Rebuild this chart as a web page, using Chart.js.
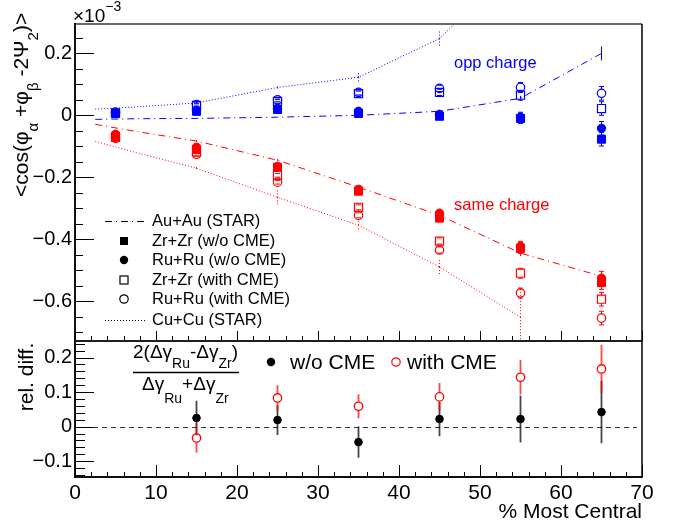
<!DOCTYPE html>
<html>
<head>
<meta charset="utf-8">
<script src="https://cdn.jsdelivr.net/npm/chart.js@4.4.0/dist/chart.umd.min.js"></script>
<style>
  html, body { margin: 0; padding: 0; background: #fff; }
  .wrap { position: relative; width: 678px; height: 529px; }
  .wrap canvas { position: absolute; left: 0; top: 0; }
</style>
</head>
<body>
<div class="wrap">
  <canvas id="topChart" width="678" height="529"></canvas>
  <canvas id="bottomChart" width="678" height="529"></canvas>
</div>
<script>
const FONT = '"Liberation Sans", Arial, Helvetica, sans-serif';
const BLUE = '#0000ff';
const RED = '#ff0000';

// centrality bins (% most central)
const isoCent = [5, 15, 25, 35, 45, 55, 65];
const auCent = [2.5, 7.5, 15, 25, 35, 45, 55, 65];
const cuCent = [2.5, 7.5, 15, 25, 35, 45, 55];

// <cos(phi_a + phi_b - 2 Psi_2)>, units of 1e-3, opposite charge
const zrOppNoCme = [0.006, 0.013, 0.019, 0.006, -0.003, -0.010, -0.077];
const ruOppNoCme = [0.010, 0.016, 0.022, 0.013, 0.003, -0.006, -0.042];
const zrOppCme = [0.008, 0.032, 0.045, 0.070, 0.074, 0.065, 0.022];
const ruOppCme = [0.010, 0.035, 0.050, 0.074, 0.087, 0.090, 0.071];
// same charge
const zrSameNoCme = [-0.068, -0.110, -0.168, -0.245, -0.332, -0.430, -0.540];
const ruSameNoCme = [-0.061, -0.103, -0.165, -0.239, -0.316, -0.423, -0.526];
const zrSameCme = [-0.071, -0.119, -0.194, -0.297, -0.406, -0.510, -0.594];
const ruSameCme = [-0.074, -0.126, -0.216, -0.323, -0.435, -0.574, -0.655];
const isoErr = [0.004, 0.005, 0.006, 0.008, 0.010, 0.016, 0.022];

// STAR data
const auOpp = [-0.013, -0.011, -0.010, -0.006, 0.000, 0.013, 0.055, 0.200];
const auOppErr = [0, 0, 0, 0, 0.003, 0.005, 0.008, 0.030];
const auSame = [-0.029, -0.052, -0.083, -0.145, -0.232, -0.323, -0.445, -0.520];
const auSameErr = [0, 0, 0.003, 0.004, 0.006, 0.008, 0.010, 0.015];
const cuOpp = [0.020, 0.027, 0.040, 0.090, 0.123, 0.248, 0.500];
const cuOppErr = [0, 0, 0.005, 0.006, 0.013, 0.028, 0.050];
const cuSame = [-0.084, -0.120, -0.171, -0.265, -0.355, -0.490, -0.652];
const cuSameErr = [0, 0, 0.006, 0.025, 0.020, 0.028, 0.090];

// relative difference 2(Ru-Zr)/(Ru+Zr)
const relCent = [15, 25, 35, 45, 55, 65];
const relNoCme = [0.025, 0.019, -0.045, 0.022, 0.022, 0.042];
const relNoCmeErr = [0.050, 0.043, 0.045, 0.050, 0.068, 0.090];
const relCme = [-0.033, 0.083, 0.059, 0.086, 0.143, 0.167];
const relCmeErr = [0.043, 0.037, 0.035, 0.040, 0.050, 0.070];

const pts = (xs, ys) => xs.map((x, i) => ({ x: x, y: ys[i] }));
const fmt = v => {
  const r = Math.round(v * 10) / 10;
  if (r === 0) return '0';
  return r < 0 ? '\u2212' + (-r).toFixed(1) : r.toFixed(1);
};

const DASHDOT = [7, 4, 1, 4];
const DOTTED = [1, 2];

function errorBars(chart) {
  const ctx = chart.ctx, a = chart.chartArea;
  ctx.save();
  ctx.beginPath();
  ctx.rect(a.left, a.top, a.right - a.left, a.bottom - a.top);
  ctx.clip();
  chart.data.datasets.forEach((ds, i) => {
    if (!ds.errors) return;
    const meta = chart.getDatasetMeta(i);
    const ys = chart.scales[meta.yAxisID];
    ctx.strokeStyle = ds.errColor || ds.borderColor;
    ctx.lineWidth = ds.errWidth || 1;
    ctx.setLineDash(ds.showLine ? ds.borderDash : []);
    ds.data.forEach((p, j) => {
      const e = ds.errors[j];
      if (!e) return;
      const x = meta.data[j].x, y = meta.data[j].y;
      const hi = ys.getPixelForValue(p.y + e), lo = ys.getPixelForValue(p.y - e);
      const gap = ds.errGap || 0;
      ctx.beginPath();
      if (hi < y - gap) { ctx.moveTo(x, y - gap); ctx.lineTo(x, hi); }
      if (lo > y + gap) { ctx.moveTo(x, y + gap); ctx.lineTo(x, lo); }
      if (ds.errCap) {
        ctx.moveTo(x - ds.errCap, hi); ctx.lineTo(x + ds.errCap, hi);
        ctx.moveTo(x - ds.errCap, lo); ctx.lineTo(x + ds.errCap, lo);
      }
      ctx.stroke();
    });
  });
  ctx.restore();
}

function tickMarks(ctx, scale, horizontal, pos, step, majorEvery, majorLen, minorLen, dir) {
  ctx.save();
  ctx.strokeStyle = '#000';
  ctx.lineWidth = 1;
  ctx.beginPath();
  for (let k = Math.ceil(scale.min / step - 1e-9); k * step <= scale.max + 1e-9; k++) {
    const p = Math.round(scale.getPixelForValue(k * step)) + 0.5;
    const len = (k % majorEvery === 0) ? majorLen : minorLen;
    if (horizontal) { ctx.moveTo(p, pos); ctx.lineTo(p, pos + dir * len); }
    else { ctx.moveTo(pos, p); ctx.lineTo(pos + dir * len, p); }
  }
  ctx.stroke();
  ctx.restore();
}

function line(ctx, x1, y1, x2, y2, color, w, dash) {
  ctx.save();
  ctx.strokeStyle = color;
  ctx.lineWidth = w;
  ctx.setLineDash(dash || []);
  ctx.beginPath();
  ctx.moveTo(x1, y1);
  ctx.lineTo(x2, y2);
  ctx.stroke();
  ctx.restore();
}

// pieces: [text, size, dy]
function richText(ctx, x, y, pieces, color) {
  ctx.save();
  ctx.fillStyle = color || '#000';
  ctx.textBaseline = 'alphabetic';
  ctx.textAlign = 'left';
  let cx = x;
  pieces.forEach(([t, size, dy]) => {
    ctx.font = size + 'px ' + FONT;
    ctx.fillText(t, cx, y + dy);
    cx += ctx.measureText(t).width;
  });
  ctx.restore();
}

function marker(ctx, kind, x, y, color) {
  ctx.save();
  ctx.fillStyle = color;
  ctx.strokeStyle = color;
  ctx.lineWidth = 1.2;
  ctx.beginPath();
  if (kind === 'fsq') ctx.fillRect(x - 4, y - 4, 8, 8);
  else if (kind === 'osq') ctx.strokeRect(x - 4, y - 4, 8, 8);
  else if (kind === 'fci') { ctx.arc(x, y, 4.2, 0, Math.PI * 2); ctx.fill(); }
  else if (kind === 'oci') { ctx.arc(x, y, 4.2, 0, Math.PI * 2); ctx.stroke(); }
  ctx.restore();
}

const legendRows = [
  ['Au+Au (STAR)', 'dashdot'],
  ['Zr+Zr (w/o CME)', 'fsq'],
  ['Ru+Ru (w/o CME)', 'fci'],
  ['Zr+Zr (with CME)', 'osq'],
  ['Ru+Ru (with CME)', 'oci'],
  ['Cu+Cu (STAR)', 'dotted']
];
const legendY = [221, 241, 260, 280, 299, 320];

const topDecor = {
  id: 'topDecor',
  beforeDatasetsDraw(chart) { errorBars(chart); },
  afterDraw(chart) {
    const ctx = chart.ctx, a = chart.chartArea;
    const xs = chart.scales.x, ys = chart.scales.y;
    // frame
    line(ctx, a.left, a.top, a.right, a.top, '#6a6a6a', 2.2);
    line(ctx, a.right, a.top, a.right, a.bottom, '#000', 1.5);
    line(ctx, a.left, a.top - 1, a.left, a.bottom, '#111', 2);
    line(ctx, a.left, a.bottom, a.right, a.bottom, '#111', 1.5);
    tickMarks(ctx, ys, false, a.left, 0.05, 4, 19, 8, 1);
    tickMarks(ctx, xs, true, a.bottom, 2, 5, 10, 5, -1);

    // x10^-3
    richText(ctx, 73, 22, [['\u00d710', 19, 0], ['\u22123', 14, -11]]);

    // y title
    ctx.save();
    ctx.translate(28, 197);
    ctx.rotate(-Math.PI / 2);
    richText(ctx, 0, 0, [
      ['<cos(\u03c6', 21, 0], ['\u03b1', 15, 10], [' +\u03c6', 21, 0], ['\u03b2', 15, 10],
      [' -2\u03a8', 21, 0], ['2', 15, 10], [')>', 21, 0]
    ]);
    ctx.restore();

    // annotations
    ctx.save();
    ctx.font = '16.5px ' + FONT;
    ctx.textBaseline = 'middle';
    ctx.fillStyle = BLUE;
    ctx.fillText('opp charge', 454, 63);
    ctx.fillStyle = RED;
    ctx.fillText('same charge', 454, 205);
    ctx.restore();

    // legend
    ctx.save();
    ctx.font = '16.5px ' + FONT;
    ctx.textBaseline = 'middle';
    ctx.fillStyle = '#000';
    legendRows.forEach(([label, kind], i) => {
      const y = legendY[i];
      if (kind === 'dashdot') line(ctx, 105, y + 0.5, 145, y + 0.5, '#000', 1, DASHDOT);
      else if (kind === 'dotted') line(ctx, 105, y + 0.5, 145, y + 0.5, '#000', 1, DOTTED);
      else marker(ctx, kind, 124, y, '#000');
      ctx.fillText(label, 152, y);
    });
    ctx.restore();
  }
};

const bottomDecor = {
  id: 'bottomDecor',
  beforeDatasetsDraw(chart) {
    const ctx = chart.ctx, a = chart.chartArea;
    const z = chart.scales.y.getPixelForValue(0);
    line(ctx, a.left, Math.round(z) + 0.5, a.right - 5, Math.round(z) + 0.5, '#333', 1, [5, 4]);
    errorBars(chart);
  },
  afterDraw(chart) {
    const ctx = chart.ctx, a = chart.chartArea;
    const xs = chart.scales.x, ys = chart.scales.y;
    line(ctx, a.left, a.top, a.right, a.top, '#111', 1.5);
    line(ctx, a.right, a.top, a.right, a.bottom, '#000', 1.5);
    line(ctx, a.left, a.top, a.left, a.bottom + 1, '#111', 2);
    line(ctx, a.left, a.bottom, a.right + 0.7, a.bottom, '#111', 2);
    tickMarks(ctx, ys, false, a.left, 0.02, 5, 19, 10, 1);
    tickMarks(ctx, xs, true, a.bottom, 2, 5, 12, 5, -1);

    // x title
    ctx.save();
    ctx.font = '21px ' + FONT;
    ctx.textAlign = 'right';
    ctx.textBaseline = 'middle';
    ctx.fillStyle = '#000';
    ctx.fillText('% Most Central', 642, 512);
    ctx.restore();

    // y title
    ctx.save();
    ctx.translate(33, 377);
    ctx.rotate(-Math.PI / 2);
    ctx.font = '21px ' + FONT;
    ctx.textAlign = 'center';
    ctx.fillStyle = '#000';
    ctx.fillText('rel. diff.', 0, 0);
    ctx.restore();

    // formula
    richText(ctx, 133, 358, [['2(\u0394\u03b3', 19, 0], ['Ru', 14, 10], ['-\u0394\u03b3', 19, 0], ['Zr', 14, 10], [')', 19, 0]]);
    line(ctx, 133, 372.5, 239, 372.5, '#000', 1.5);
    richText(ctx, 142, 390, [['\u0394\u03b3', 19, 0], ['Ru', 14, 13], ['+\u0394\u03b3', 19, 0], ['Zr', 14, 13]]);

    // legend
    ctx.save();
    ctx.font = '21px ' + FONT;
    ctx.textBaseline = 'middle';
    ctx.fillStyle = '#000';
    marker(ctx, 'fci', 271, 362, '#000');
    ctx.fillText('w/o CME', 290, 363);
    marker(ctx, 'oci', 396, 362, RED);
    ctx.fillText('with CME', 407, 363);
    ctx.restore();
  }
};

function starLine(label, xs, ys, errs, color, dash) {
  return {
    label: label, data: pts(xs, ys), errors: errs, showLine: true,
    borderColor: color, borderWidth: 1, borderDash: dash, pointRadius: 0, errWidth: 1
  };
}
function isoSeries(label, ys, color, style, filled) {
  return {
    label: label, data: pts(isoCent, ys), errors: isoErr, showLine: false,
    pointStyle: style, pointRadius: style === 'rect' ? 5.7 : 4.2,
    backgroundColor: filled ? color : 'rgba(0,0,0,0)', borderColor: color,
    borderWidth: filled ? 1 : 1.2, errCap: 2.5, errGap: filled ? 0 : 4
  };
}

const topChart = new Chart(document.getElementById('topChart'), {
  type: 'scatter',
  data: {
    datasets: [
      starLine('Au+Au opp', auCent, auOpp, auOppErr, BLUE, DASHDOT),
      starLine('Au+Au same', auCent, auSame, auSameErr, RED, DASHDOT),
      starLine('Cu+Cu opp', cuCent, cuOpp, cuOppErr, BLUE, DOTTED),
      starLine('Cu+Cu same', cuCent, cuSame, cuSameErr, RED, DOTTED),
      isoSeries('Zr+Zr w/o opp', zrOppNoCme, BLUE, 'rect', true),
      isoSeries('Ru+Ru w/o opp', ruOppNoCme, BLUE, 'circle', true),
      isoSeries('Zr+Zr with opp', zrOppCme, BLUE, 'rect', false),
      isoSeries('Ru+Ru with opp', ruOppCme, BLUE, 'circle', false),
      isoSeries('Zr+Zr w/o same', zrSameNoCme, RED, 'rect', true),
      isoSeries('Ru+Ru w/o same', ruSameNoCme, RED, 'circle', true),
      isoSeries('Zr+Zr with same', zrSameCme, RED, 'rect', false),
      isoSeries('Ru+Ru with same', ruSameCme, RED, 'circle', false)
    ]
  },
  options: {
    responsive: false,
    animation: false,
    devicePixelRatio: 1,
    events: [],
    layout: { padding: { left: 0, top: 24, right: 36, bottom: 188 } },
    plugins: { legend: { display: false }, tooltip: { enabled: false } },
    scales: {
      x: { type: 'linear', min: 0, max: 70, display: false },
      y: {
        min: -0.729, max: 0.295,
        grid: { display: false, drawTicks: false }, border: { display: false },
        afterFit: s => { s.width = 75; },
        ticks: {
          stepSize: 0.2, includeBounds: false, padding: 3, color: '#000',
          font: { family: FONT, size: 20 }, callback: v => fmt(v)
        }
      }
    }
  },
  plugins: [topDecor]
});

const bottomChart = new Chart(document.getElementById('bottomChart'), {
  type: 'scatter',
  data: {
    datasets: [
      {
        label: 'w/o CME', data: pts(relCent, relNoCme), errors: relNoCmeErr,
        pointStyle: 'circle', pointRadius: 3.8, backgroundColor: '#000', borderColor: '#000',
        errColor: 'rgba(0,0,0,0.72)', errWidth: 1.8, errGap: 0
      },
      {
        label: 'with CME', data: pts(relCent, relCme), errors: relCmeErr,
        pointStyle: 'circle', pointRadius: 4.2, backgroundColor: 'rgba(0,0,0,0)', borderColor: RED,
        borderWidth: 1.3, errColor: 'rgba(255,0,0,0.72)', errWidth: 1.8, errGap: 4.5
      }
    ]
  },
  options: {
    responsive: false,
    animation: false,
    devicePixelRatio: 1,
    events: [],
    layout: { padding: { left: 0, top: 341, right: 36, bottom: 0 } },
    plugins: { legend: { display: false }, tooltip: { enabled: false } },
    scales: {
      x: {
        type: 'linear', min: 0, max: 70,
        grid: { display: false, drawTicks: false }, border: { display: false },
        afterFit: s => { s.height = 52; },
        ticks: { stepSize: 10, padding: 4, color: '#000', maxRotation: 0, font: { family: FONT, size: 21 } }
      },
      y: {
        min: -0.146, max: 0.248,
        grid: { display: false, drawTicks: false }, border: { display: false },
        afterFit: s => { s.width = 75; },
        ticks: {
          stepSize: 0.1, includeBounds: false, padding: 3, color: '#000',
          font: { family: FONT, size: 20 }, callback: v => fmt(v)
        }
      }
    }
  },
  plugins: [bottomDecor]
});
</script>
</body>
</html>
